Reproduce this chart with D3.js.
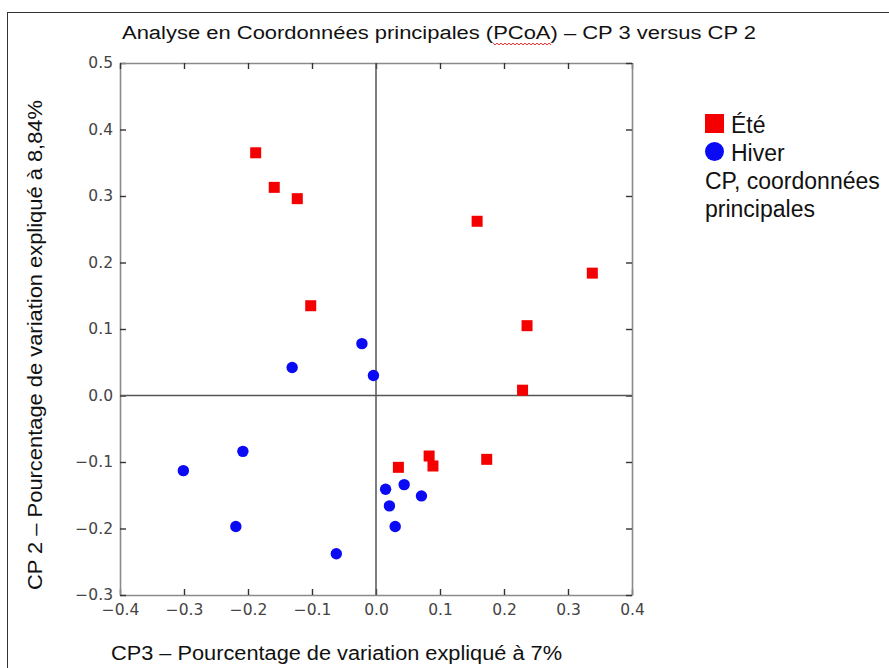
<!DOCTYPE html>
<html>
<head>
<meta charset="utf-8">
<script src="https://cdn.jsdelivr.net/npm/d3@7"></script>
<style>
  body { margin: 0; background: #fff; }
  svg { display: block; }
</style>
</head>
<body>
<div id="chart"></div>
<script>
// CP3 (x) / CP2 (y) coordinates
const eteX = [-0.188, -0.159, -0.123, -0.102, 0.158, 0.338, 0.236, 0.229, 0.035, 0.083, 0.089, 0.173]
const eteY = [0.365, 0.313, 0.296, 0.135, 0.262, 0.184, 0.105, 0.008, -0.108, -0.091, -0.106, -0.096]
const hiverX = [-0.022, -0.004, -0.131, -0.301, -0.208, -0.219, -0.062, 0.015, 0.044, 0.021, 0.071, 0.030]
const hiverY = [0.078, 0.030, 0.042, -0.113, -0.084, -0.197, -0.238, -0.141, -0.134, -0.166, -0.151, -0.197]

const xTicks = [-0.4, -0.3, -0.2, -0.1, 0.0, 0.1, 0.2, 0.3, 0.4]
const yTicks = [-0.3, -0.2, -0.1, 0.0, 0.1, 0.2, 0.3, 0.4, 0.5]
const legendLabels = ['Été', 'Hiver']
const legendNote = ['CP, coordonnées', 'principales']

const titleText = 'Analyse en Coordonnées principales (PCoA) – CP 3 versus CP 2'
const xLabel = 'CP3 – Pourcentage de variation expliqué à 7%'
const yLabel = 'CP 2 – Pourcentage de variation expliqué à 8,84%'

const width = 889
const height = 668
const red = '#f50000'
const blue = '#0a0af5'

const svg = d3.select('#chart').append('svg')
  .attr('width', width)
  .attr('height', height)

// outer frame (runs off the right and bottom edges)
svg.append('rect')
  .attr('x', 7.5).attr('y', 12.5)
  .attr('width', 1000).attr('height', 1000)
  .attr('fill', 'none')
  .attr('stroke', '#333')

const x = d3.scaleLinear().domain([-0.4, 0.4]).range([120, 632])
const y = d3.scaleLinear().domain([-0.3, 0.5]).range([595, 63])

const fmt = d => d3.format('.1f')(d).replace('-', '\u2212')

// axes: ticks inward on all four sides
let ax = svg.append('g').attr('transform', `translate(0,${y(-0.3)})`)
  .call(d3.axisBottom(x).tickValues(xTicks).tickFormat(fmt).tickSize(-6).tickSizeOuter(0).tickPadding(9))
let ayl = svg.append('g').attr('transform', `translate(${x(-0.4)},0)`)
  .call(d3.axisLeft(y).tickValues(yTicks).tickFormat(fmt).tickSize(-6).tickSizeOuter(0).tickPadding(7))
let axt = svg.append('g').attr('transform', `translate(0,${y(0.5)})`)
  .call(d3.axisTop(x).tickValues(xTicks).tickFormat('').tickSize(-6).tickSizeOuter(0))
let ayr = svg.append('g').attr('transform', `translate(${x(0.4)},0)`)
  .call(d3.axisRight(y).tickValues(yTicks).tickFormat('').tickSize(-6).tickSizeOuter(0))

;[ax, ayl, axt, ayr].forEach(g => {
  g.select('.domain').attr('stroke', '#8a8a8a').attr('stroke-width', 1.6)
  g.selectAll('.tick line').attr('stroke', '#333').attr('stroke-width', 1.4)
  g.selectAll('text')
    .attr('fill', '#444')
    .style('font-family', '"DejaVu Sans", sans-serif')
    .style('font-size', '15.5px')
})

// zero lines
svg.append('line')
  .attr('x1', x(0)).attr('x2', x(0))
  .attr('y1', y(0.5)).attr('y2', y(-0.3))
  .attr('stroke', '#555').attr('stroke-width', 1.5)
svg.append('line')
  .attr('x1', x(-0.4)).attr('x2', x(0.4))
  .attr('y1', y(0)).attr('y2', y(0))
  .attr('stroke', '#555').attr('stroke-width', 1.5)

// points
const sq = 11
svg.append('g').selectAll('rect')
  .data(d3.range(eteX.length))
  .join('rect')
  .attr('x', i => x(eteX[i]) - sq / 2)
  .attr('y', i => y(eteY[i]) - sq / 2)
  .attr('width', sq).attr('height', sq)
  .attr('fill', red)

svg.append('g').selectAll('circle')
  .data(d3.range(hiverX.length))
  .join('circle')
  .attr('cx', i => x(hiverX[i]))
  .attr('cy', i => y(hiverY[i]))
  .attr('r', 5.7)
  .attr('fill', blue)

// title with the spell-check squiggle under "PCoA"
const font = '"Liberation Sans", Arial, sans-serif'
const title = svg.append('text')
  .attr('x', 122).attr('y', 39)
  .attr('textLength', 634)
  .attr('lengthAdjust', 'spacingAndGlyphs')
  .style('font-family', font)
  .style('font-size', '18px')
  .attr('fill', '#111')
  .text(titleText)

const start = titleText.indexOf('PCoA')
const tNode = title.node()
const s0 = tNode.getStartPositionOfChar(start).x
const s1 = tNode.getEndPositionOfChar(start + 3).x
let wave = `M${s0},43`
for (let px = s0, k = 0; px < s1; px += 2, k++) {
  wave += `L${px + 2},${k % 2 ? 43 : 45}`
}
svg.append('path').attr('d', wave)
  .attr('fill', 'none').attr('stroke', '#e02020').attr('stroke-width', 1)

// axis titles
svg.append('text')
  .attr('x', 111).attr('y', 660)
  .attr('textLength', 451)
  .attr('lengthAdjust', 'spacingAndGlyphs')
  .style('font-family', font)
  .style('font-size', '20px')
  .attr('fill', '#111')
  .text(xLabel)

svg.append('text')
  .attr('transform', 'translate(42,590) rotate(-90)')
  .attr('textLength', 490)
  .attr('lengthAdjust', 'spacingAndGlyphs')
  .style('font-family', font)
  .style('font-size', '20px')
  .attr('fill', '#111')
  .text(yLabel)

// legend
const leg = svg.append('g')
leg.append('rect')
  .attr('x', 705).attr('y', 114)
  .attr('width', 19).attr('height', 19)
  .attr('fill', red)
leg.append('circle')
  .attr('cx', 714.5).attr('cy', 151.5)
  .attr('r', 9.5)
  .attr('fill', blue)

leg.selectAll('text.lab')
  .data(legendLabels)
  .join('text')
  .attr('class', 'lab')
  .attr('x', 731)
  .attr('y', (d, i) => 133 + i * 28)
  .style('font-family', font)
  .style('font-size', '23px')
  .attr('fill', '#111')
  .text(d => d)

leg.selectAll('text.note')
  .data(legendNote)
  .join('text')
  .attr('class', 'note')
  .attr('x', 705)
  .attr('y', (d, i) => 189 + i * 27.5)
  .style('font-family', font)
  .style('font-size', '23px')
  .attr('fill', '#111')
  .text(d => d)
</script>
</body>
</html>
